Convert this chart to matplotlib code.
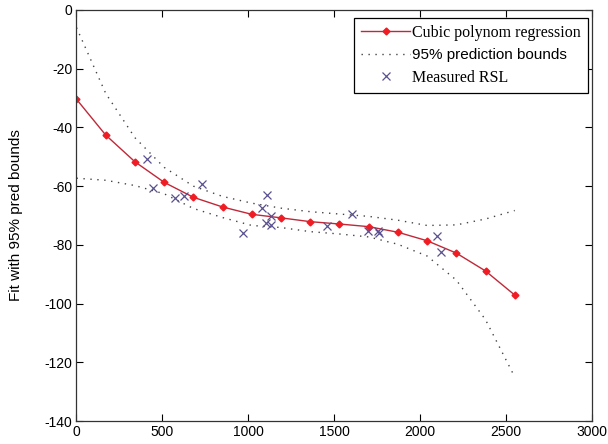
import matplotlib
matplotlib.use('Agg')
import matplotlib.pyplot as plt
import numpy as np

plt.rc('font', family=['Liberation Sans', 'DejaVu Sans'], size=10)
plt.rc('axes', unicode_minus=False)

# distance grid of the fitted curve
dist = [0, 170, 340, 510, 680, 850, 1020, 1190, 1360, 1530, 1700, 1870, 2040, 2210, 2380, 2550]
fit = [-30.4, -42.6, -51.7, -58.7, -63.8, -67.1, -69.6, -70.8, -72.1, -72.9, -73.8, -75.7, -78.6, -82.8, -88.9, -97.1]
upper = [-6.0, -28.4, -43.5, -53.6, -60.0, -63.5, -65.8, -67.5, -68.7, -69.5, -70.3, -71.6, -73.4, -73.2, -71.2, -68.3]
lower = [-57.3, -58.0, -59.8, -62.6, -67.6, -70.7, -73.4, -74.1, -75.5, -76.3, -77.3, -79.8, -83.8, -92.0, -105.5, -125.0]

# measured received signal level
meas_x = [413, 447, 571, 628, 729, 970, 1079, 1100, 1108, 1129, 1134, 1460, 1602, 1694, 1752, 1762, 2097, 2122]
meas_y = [-50.8, -60.7, -63.9, -63.4, -59.4, -76.1, -67.3, -72.5, -63.0, -70.1, -73.3, -73.7, -69.5, -75.3, -75.3, -76.1, -77.0, -82.3]

fig = plt.figure(figsize=(6.08, 4.44), dpi=100)
ax = fig.add_axes([0.1258, 0.0518, 0.848, 0.9257])

ax.plot(dist, fit, '-', color='#c02838', lw=1.0, marker='D', markersize=3.5,
        markerfacecolor='#f01c24', markeredgecolor='#f01c24', label='Cubic polynom regression')
ax.plot(dist, upper, color='#444444', lw=1.0, linestyle=(0, (1, 4)), label='95% prediction bounds')
ax.plot(dist, lower, color='#444444', lw=1.0, linestyle=(0, (1, 4)))
ax.plot(meas_x, meas_y, 'x', color='#5a5090', markersize=6, markeredgewidth=0.9, label='Measured RSL')

ax.set_xlim(0, 3000)
ax.set_ylim(-140, 0)
ax.set_xticks(np.arange(0, 3001, 500))
ax.set_yticks(np.arange(-140, 1, 20))
ax.tick_params(direction='in', top=True, right=True, length=5, width=0.8, labelsize=10, pad=3)
for s in ax.spines.values():
    s.set_color('#333333')
    s.set_linewidth(0.9)

ax.set_ylabel('Fit with 95% pred bounds', fontsize=11)
ax.yaxis.set_label_coords(-0.104, 0.5)

leg = ax.legend(loc='upper right', bbox_to_anchor=(0.992, 0.981), borderaxespad=0,
                fontsize=11.5, numpoints=1, handlelength=3.1, handletextpad=0.1,
                labelspacing=0.45, borderpad=0.45, fancybox=False, framealpha=1)
leg.get_frame().set_edgecolor('black')
leg.get_frame().set_linewidth(0.9)
txts = leg.get_texts()
txts[0].set_family(['Liberation Serif', 'DejaVu Serif'])
txts[2].set_family(['Liberation Serif', 'DejaVu Serif'])
txts[1].set_fontsize(11)

fig.savefig('out.png', dpi=100)
